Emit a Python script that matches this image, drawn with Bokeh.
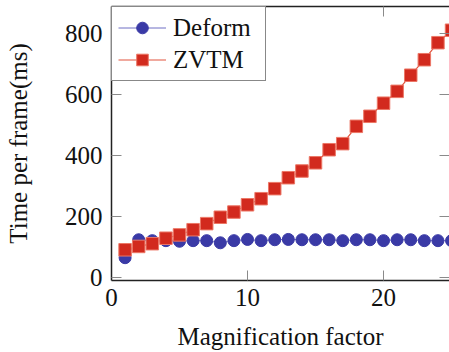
from bokeh.plotting import figure
from bokeh.models import (FixedTicker, LinearAxis, Range1d, Legend, LegendItem,
                          CustomLabelingPolicy)
from bokeh.embed import file_html
from bokeh.resources import INLINE

factor = list(range(1, 26))
deform = [64, 123, 120, 120, 118, 120, 120, 113, 120, 124, 120, 123, 124,
          123, 123, 123, 120, 123, 123, 120, 123, 123, 120, 120, 120]
zvtm = [90, 101, 110, 128, 139, 156, 176, 197, 214, 238, 258, 291, 327,
        349, 376, 419, 439, 496, 529, 572, 611, 664, 715, 771, 812]
x_ticks = [0, 10, 20]
y_ticks = [0, 200, 400, 600, 800]
series_names = ["Deform", "ZVTM"]
x_title = "Magnification factor"
y_title = "Time per frame(ms)"

FONT = "Liberation Serif"
TITLE_FONT = "'Liberation Serif', 'DejaVu Serif', serif"
FS = "25px"

p = figure(width=449, height=352, output_backend="svg", toolbar_location=None,
           x_range=Range1d(0, 24.85), y_range=Range1d(-11, 890),
           min_border_left=111, min_border_right=0, min_border_top=6,
           min_border_bottom=72)
p.outline_line_color = None
p.grid.visible = False
p.background_fill_color = "white"
p.border_fill_color = "white"

p.add_layout(LinearAxis(), "above")
p.add_layout(LinearAxis(), "right")

for ax in p.xaxis:
    ax.ticker = FixedTicker(ticks=x_ticks)
for ax in p.yaxis:
    ax.ticker = FixedTicker(ticks=y_ticks)

for ax in p.axis:
    ax.major_tick_in = 10
    ax.major_tick_out = 0
    ax.minor_tick_line_color = None
    ax.major_tick_line_color = "#8a8a8a"
    ax.major_tick_line_width = 1
    ax.axis_line_color = "#222222"
    ax.axis_line_width = 1.5
    ax.major_label_text_font = FONT
    ax.major_label_text_font_size = FS
    ax.major_label_text_color = "#111111"
    ax.axis_label_text_font = TITLE_FONT
    ax.axis_label_text_font_size = FS
    ax.axis_label_text_font_style = "normal"
    ax.axis_label_text_color = "#111111"

for ax in (p.above[0], p.right[0]):
    ax.major_label_policy = CustomLabelingPolicy(code="""
        for (const i of indices) { indices.unset(i) }
        return indices
    """)
    ax.major_label_text_font_size = "0px"
    ax.major_label_standoff = 0
p.right[0].axis_line_color = None

xb = p.below[0]
xb.major_label_standoff = 8
xb.axis_label = x_title
xb.axis_label_standoff = 14

yl = p.left[0]
yl.major_label_standoff = 9
yl.axis_label = y_title
yl.axis_label_standoff = 30

BLUE = "#3a3aa6"
BLUE_LINE = "#6e6ec4"
RED = "#d22a1e"
RED_EDGE = "#ec7766"
RED_LINE = "#e2553f"

r1l = p.line(factor, deform, line_color=BLUE_LINE, line_width=1)
r1s = p.scatter(factor, deform, marker="circle", size=12,
                fill_color=BLUE, line_color=BLUE, line_width=1)
r2l = p.line(factor, zvtm, line_color=RED_LINE, line_width=1.2)
r2s = p.scatter(factor, zvtm, marker="square", size=12.5,
                fill_color=RED, line_color=RED_EDGE, line_width=1)

legend = Legend(items=[LegendItem(label=series_names[0], renderers=[r1l, r1s]),
                       LegendItem(label=series_names[1], renderers=[r2l, r2s])],
                location="top_left", margin=0, padding=6, spacing=3,
                glyph_width=48, glyph_height=29, label_standoff=7,
                label_width=86, label_height=29,
                label_text_font=FONT, label_text_font_size=FS,
                label_text_color="#111111",
                border_line_color="#111111", border_line_width=1.5,
                background_fill_color="white", background_fill_alpha=1)
p.add_layout(legend)

open("out.html", "w").write(file_html(p, INLINE))
